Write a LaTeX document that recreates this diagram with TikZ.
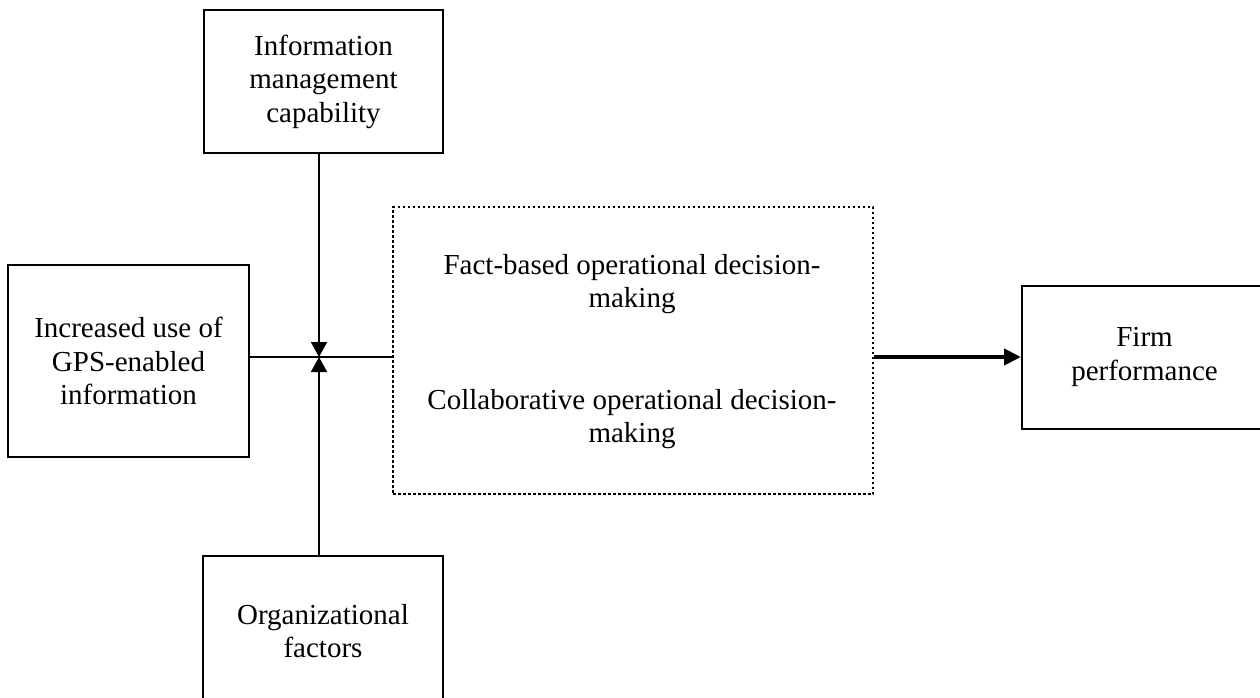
\documentclass[tikz,border=0pt]{standalone}
\usepackage{fontspec}
\setmainfont{Liberation Serif}
\usetikzlibrary{arrows.meta}
\begin{document}
\begin{tikzpicture}[x=1pt,y=-1pt,
  txt/.style={font=\fontsize{29}{33.5}\selectfont, align=center},
  box/.style={draw, line width=2pt, txt, inner sep=0pt},
  dotbox/.style={draw, line width=2.5pt, dash pattern=on 2.5pt off 2.5pt, inner sep=0pt},
  conn/.style={line width=2pt},
  arr/.style={line width=2pt, -{Triangle[length=15pt,width=16pt]}},
  bigarr/.style={line width=4pt, -{Triangle[length=17pt,width=16pt]}}]
\clip (0,0) rectangle (1260,698);
\node[box, minimum width=239pt, minimum height=143pt] (top) at (323.5,81.5) {Information\\management\\capability};
\node[box, minimum width=241pt, minimum height=192pt] (left) at (128.5,361) {Increased use of\\GPS-enabled\\information};
\node[box, minimum width=240pt, minimum height=150pt] (bot) at (323,631) {Organizational\\factors};
\node[box, minimum width=245pt, minimum height=143pt] (firm) at (1144.5,357) {Firm\\performance};
\node[dotbox, minimum width=480pt, minimum height=287pt] (mid) at (633,350.5) {};
\node[txt] (fact) at (632,284) {Fact-based operational decision-\\making};
\node[txt] (collab) at (632,419) {Collaborative operational decision-\\making};
\coordinate (J) at (319,357);
\draw[conn] (left.east |- J) -- (mid.west |- J);
\draw[arr] (top.south -| J) -- (J);
\draw[arr] (bot.north -| J) -- (J);
\draw[bigarr] (mid.east |- firm.west) -- (firm.west);
\end{tikzpicture}
\end{document}
